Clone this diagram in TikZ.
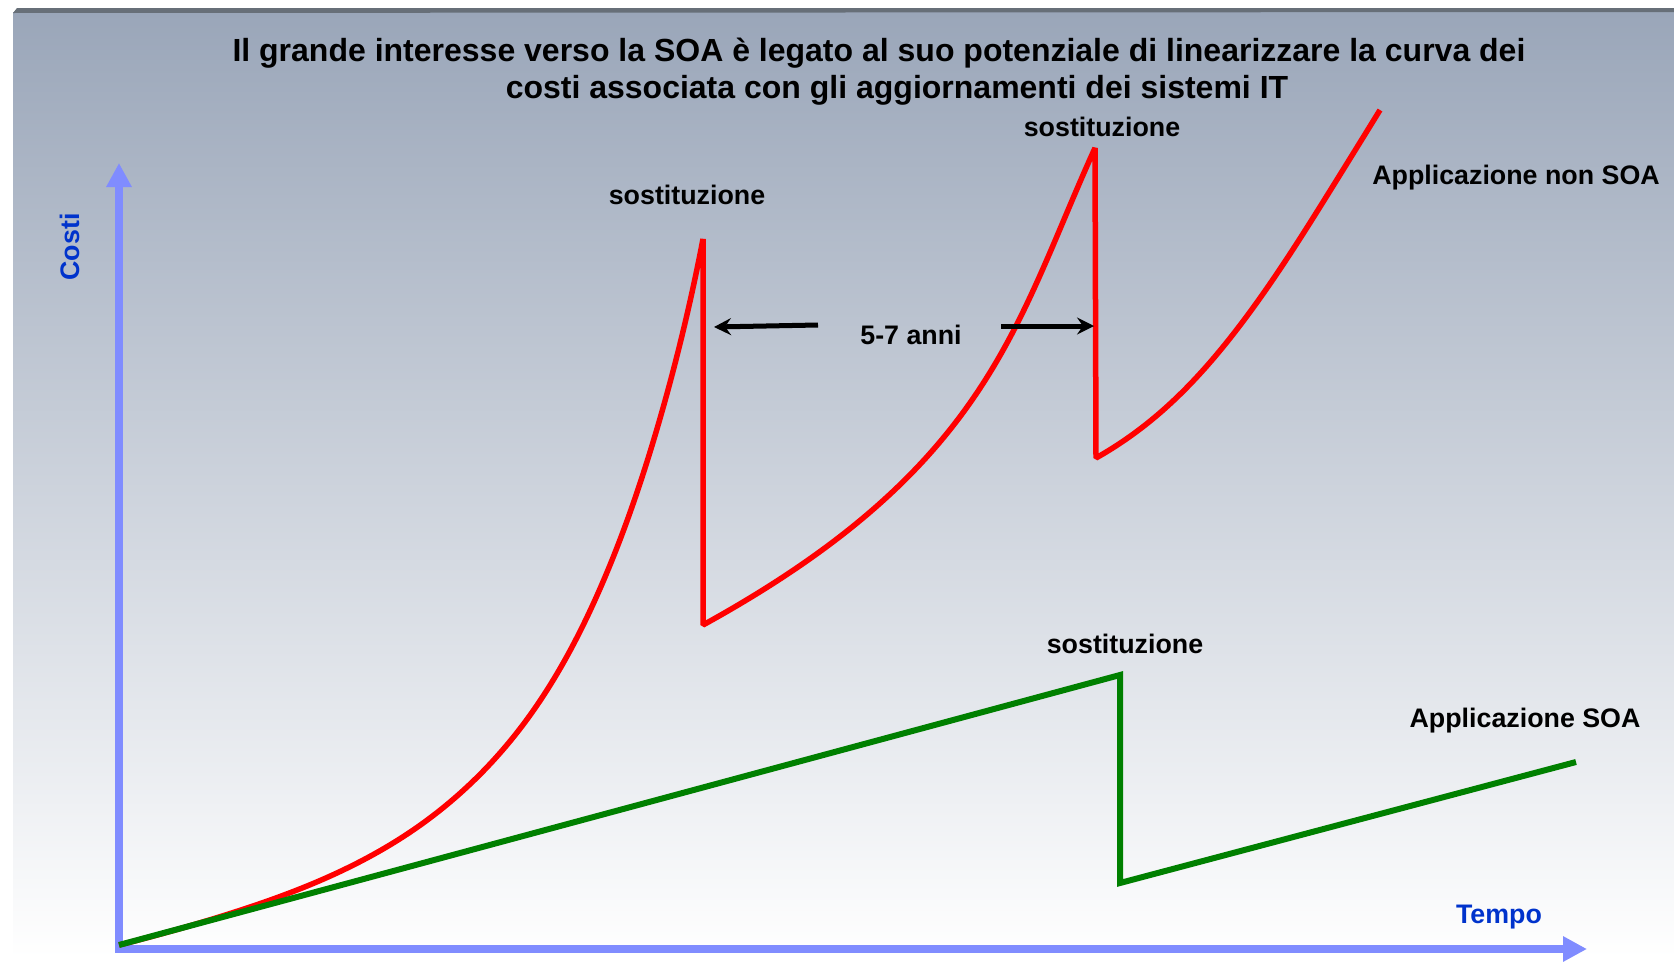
\documentclass[tikz,border=0pt]{standalone}
\usepackage{fontspec}
\setmainfont{Liberation Sans}
\usetikzlibrary{arrows.meta, hobby}

\definecolor{axisblue}{RGB}{128,140,255}
\definecolor{labelblue}{RGB}{0,51,204}
\definecolor{topgray}{RGB}{154,166,185}
\definecolor{bandgray}{RGB}{103,111,120}
\definecolor{soagreen}{RGB}{0,128,0}

\begin{document}
\begin{tikzpicture}[x=1pt, y=-1pt,
		axis/.style={line width=8pt, axisblue, line cap=rect, -{Triangle[length=24pt,width=24pt]}},
		nonsoa/.style={line width=5.5pt, red, line join=bevel},
		soa/.style={line width=6pt, soagreen, line join=miter},
		span/.style={line width=5pt, -{Stealth[length=17pt,width=17pt,inset=6pt]}},
		lbl/.style={font=\fontsize{26.8}{31}\selectfont\bfseries, inner sep=0pt, anchor=base},
		titleline/.style={font=\fontsize{32}{38}\selectfont\bfseries, inner sep=0pt, anchor=base}]
		%page and background
		\useasboundingbox (0,0) rectangle (1674,972);
		\shade [top color=topgray, bottom color=white] (13,12) rectangle (1674,958);
		\fill [bandgray] (13,13) -- (17,8) -- (1674,8) -- (1674,12) -- cycle;
		
		%title
		\node [titleline] (title1) at (879,61) {Il grande interesse verso la SOA è legato al suo potenziale di linearizzare la curva dei};
		\node [titleline] (title2) at (897,98) {costi associata con gli aggiornamenti dei sistemi IT};
		
		%axes
		\coordinate (O) at (119,949);
		\coordinate (ytop) at (119,163);
		\coordinate (xend) at (1587,949);
		\draw [axis] (O) -- (ytop);
		\draw [axis] (O) -- (xend);
		\node [lbl, labelblue, rotate=90] (costi) at (79,247) {Costi};
		\node [lbl, labelblue] (tempo) at (1499,923) {Tempo};
		
		%non SOA curve
		\coordinate (start) at (119,945);
		\coordinate (pA) at (703,239);
		\coordinate (lA) at (703,625);
		\coordinate (cA) at (990,467);
		\coordinate (cB) at (1015,324);
		\coordinate (pB) at (1095,148);
		\coordinate (lB) at (1096,458);
		\coordinate (eR) at (1380,110);
		\draw [nonsoa] (start) to [curve through={(219,917) .. (319,881) .. (419,826) .. (519,730) .. (599,591) .. (659,422)}] (pA)
			-- (lA) .. controls (cA) and (cB) .. (pB)
			-- (lB) to [curve through={(1149,422) .. (1241,324) .. (1333,186)}] (eR);
		
		%SOA line
		\coordinate (gA) at (1120,675);
		\coordinate (gL) at (1120,883);
		\coordinate (gE) at (1576,762);
		\draw [soa] (start) -- (gA) -- (gL) -- (gE);
		
		%labels
		\node [lbl] (sostA) at (687,204) {sostituzione};
		\node [lbl] (sostB) at (1102,136) {sostituzione};
		\node [lbl] (sostC) at (1125,653) {sostituzione};
		\node [lbl] (nonsoaLbl) at (1516,184) {Applicazione non SOA};
		\node [lbl] (soaLbl) at (1525,727) {Applicazione SOA};
		\node [lbl] (anni) at (911,344) {5-7 anni};
		
		%5-7 anni arrows
		\coordinate (spanL) at (818,325);
		\coordinate (spanLtip) at (714,327);
		\coordinate (spanR) at (1001,326);
		\coordinate (spanRtip) at (1094,326);
		\draw [span] (spanL) -- (spanLtip);
		\draw [span] (spanR) -- (spanRtip);
	\end{tikzpicture}
\end{document}
